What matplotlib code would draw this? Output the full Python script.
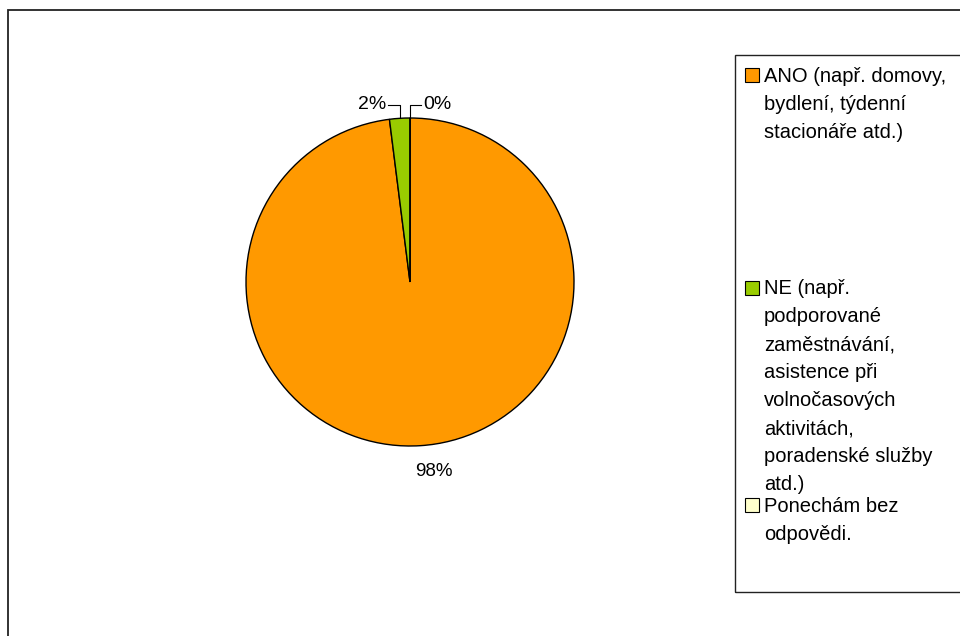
import numpy as np
import matplotlib.pyplot as plt
from matplotlib.patches import Rectangle

plt.rcParams['font.family'] = ['Liberation Sans', 'DejaVu Sans']

categories = [
    "ANO (např. domovy,\nbydlení, týdenní\nstacionáře atd.)",
    "NE (např.\npodporované\nzaměstnávání,\nasistence při\nvolnočasových\naktivitách,\nporadenské služby\natd.)",
    "Ponechám bez\nodpovědi.",
]
values = [98, 2, 0]
labels = ["98%", "2%", "0%"]
colors = ["#FF9900", "#99CC00", "#FFFFCC"]

W, H = 960, 636
fig = plt.figure(figsize=(W / 100, H / 100), dpi=100)


def fx(px):
    return px / W


def fy(py):
    return 1 - py / H


# outer chart frame (runs past the right and bottom edges)
fig.patches.append(Rectangle((fx(8), -0.05), 1.0, fy(10) + 0.05,
                             transform=fig.transFigure, fill=False,
                             edgecolor="#222222", linewidth=1.3))

ax = fig.add_axes([fx(246), fy(446), 328 / W, 328 / H])
wedges, _ = ax.pie(values, colors=colors, startangle=90, counterclock=False,
                   wedgeprops=dict(edgecolor="black", linewidth=1.0))
ax.set_xlim(-1, 1)
ax.set_ylim(-1, 1)
ax.set_aspect("equal")
ax.axis("off")

# percentage labels
w0 = wedges[0]
mid = np.deg2rad((w0.theta1 + w0.theta2) / 2)
ax.text(1.18 * np.cos(mid) + 0.07, 1.16 * np.sin(mid), labels[0],
        ha="center", va="center", fontsize=13.5)

label_y = 1.08
for w, lab, side in [(wedges[1], labels[1], -1), (wedges[2], labels[2], 1)]:
    a = np.deg2rad((w.theta1 + w.theta2) / 2)
    ex, ey = np.cos(a), np.sin(a)
    tx = ex + side * 0.07
    ax.plot([ex, ex, tx], [ey, label_y, label_y], color="black",
            linewidth=0.8, clip_on=False)
    ax.text(tx + side * 0.012, label_y, lab, ha="left" if side > 0 else "right",
            va="center", fontsize=14)

# legend box
fig.patches.append(Rectangle((fx(735), fy(592)), 0.5, (592 - 55) / H,
                             transform=fig.transFigure, fill=False,
                             edgecolor="#222222", linewidth=1.0))
cap_tops = [68, 281, 498]
for cat, col, top in zip(categories, colors, cap_tops):
    fig.patches.append(Rectangle((fx(745), fy(top + 14)), 14 / W, 14 / H,
                                 transform=fig.transFigure, facecolor=col,
                                 edgecolor="black", linewidth=0.8))
    fig.text(fx(764), fy(top - 1.5), cat, ha="left", va="top",
             fontsize=14.5, linespacing=1.6)

fig.savefig("out.png", dpi=100)
